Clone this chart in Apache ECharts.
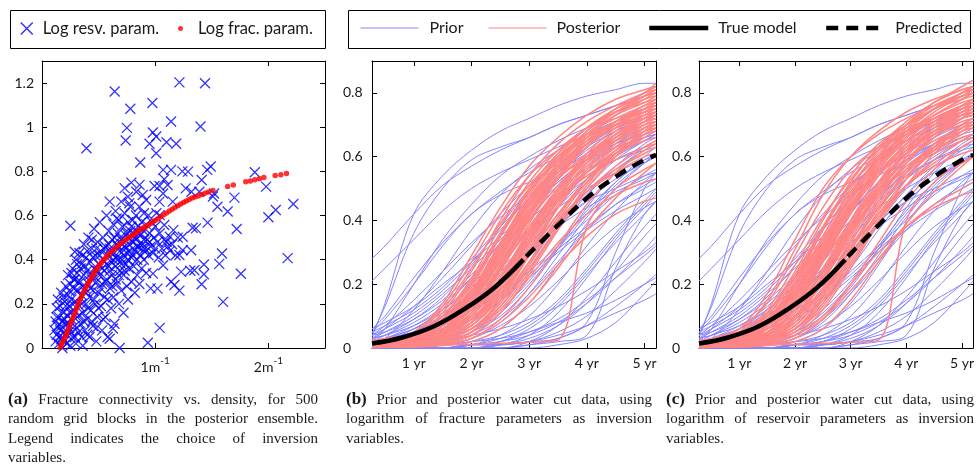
<!DOCTYPE html>
<html><head><meta charset="utf-8">
<script src="https://cdn.jsdelivr.net/npm/echarts@6/dist/echarts.min.js"></script>
<style>html,body{margin:0;padding:0;background:#fff}#c{width:977px;height:467px}</style>
</head><body><div id="c"></div>
<script>
// ---------- data ----------
const times = [0.275, 0.5, 1, 1.5, 2, 2.5, 3, 3.5, 4, 4.5, 5, 5.2];

const priorCurves = [
  [0.28,0.32,0.42,0.51,0.57,0.62,0.66,0.70,0.73,0.76,0.79,0.80],
  [0.21,0.25,0.34,0.43,0.50,0.55,0.59,0.63,0.67,0.71,0.74,0.75],
  [0.035,0.14,0.42,0.54,0.62,0.68,0.72,0.76,0.79,0.81,0.83,0.83],
  [0.045,0.13,0.36,0.50,0.59,0.63,0.66,0.70,0.73,0.76,0.79,0.80],
  [0.02,0.06,0.20,0.34,0.45,0.54,0.60,0.65,0.69,0.72,0.75,0.76],
  [0.01,0.03,0.12,0.24,0.37,0.48,0.56,0.62,0.67,0.71,0.74,0.75],
  [0.05,0.09,0.20,0.32,0.42,0.48,0.52,0.56,0.60,0.64,0.67,0.68],
  [0.06,0.10,0.22,0.33,0.42,0.49,0.55,0.60,0.65,0.69,0.72,0.73],
  [0.01,0.02,0.05,0.10,0.18,0.30,0.43,0.54,0.62,0.68,0.72,0.73],
  [0,0.01,0.03,0.07,0.14,0.25,0.38,0.50,0.59,0.66,0.71,0.72],
  [0,0,0.01,0.04,0.10,0.20,0.33,0.46,0.56,0.63,0.68,0.70],
  [0,0,0.02,0.06,0.15,0.28,0.42,0.52,0.59,0.64,0.68,0.69],
  [0.02,0.03,0.06,0.11,0.17,0.24,0.31,0.38,0.44,0.49,0.53,0.55],
  [0,0,0,0.01,0.03,0.08,0.17,0.29,0.41,0.51,0.58,0.60],
  [0,0,0,0,0.01,0.04,0.10,0.20,0.32,0.43,0.52,0.55],
  [0,0,0,0,0,0.01,0.04,0.11,0.22,0.34,0.44,0.48],
  [0,0,0,0,0,0,0.02,0.07,0.16,0.27,0.38,0.42],
  [0,0,0.01,0.02,0.04,0.06,0.09,0.13,0.18,0.24,0.30,0.33],
  [0,0,0,0.01,0.02,0.03,0.05,0.08,0.11,0.15,0.20,0.22],
  [0,0,0,0,0.01,0.01,0.02,0.04,0.07,0.11,0.15,0.17],
  [0.01,0.02,0.05,0.10,0.17,0.25,0.33,0.40,0.46,0.50,0.54,0.55],
  [0,0.01,0.02,0.05,0.09,0.15,0.22,0.30,0.37,0.43,0.48,0.50],
  [0,0,0,0,0,0,0.01,0.02,0.04,0.25,0.42,0.46],
  [0,0,0,0,0.01,0.01,0.02,0.03,0.08,0.30,0.50,0.55],
  [0.03,0.06,0.13,0.22,0.32,0.42,0.51,0.58,0.64,0.69,0.73,0.74],
  [0,0,0.01,0.03,0.08,0.18,0.31,0.44,0.55,0.63,0.69,0.71],
  [0,0,0,0.02,0.06,0.14,0.26,0.39,0.50,0.59,0.65,0.67],
  [0,0,0,0,0.02,0.06,0.14,0.26,0.39,0.50,0.58,0.61],
  [0.01,0.01,0.03,0.06,0.12,0.20,0.29,0.38,0.46,0.53,0.58,0.60],
  [0,0,0,0.01,0.04,0.09,0.17,0.27,0.37,0.45,0.51,0.53],
  [0.04,0.07,0.15,0.24,0.33,0.41,0.48,0.54,0.59,0.63,0.66,0.67],
  [0.01,0.02,0.06,0.12,0.20,0.29,0.37,0.44,0.50,0.55,0.59,0.60],
  [0,0,0,0,0,0.02,0.06,0.13,0.23,0.33,0.42,0.46],
  [0,0,0,0,0.01,0.02,0.05,0.09,0.15,0.22,0.29,0.32],
  [0,0.01,0.04,0.09,0.17,0.27,0.37,0.46,0.53,0.59,0.63,0.64],
  [0.02,0.04,0.09,0.16,0.26,0.38,0.50,0.59,0.66,0.71,0.75,0.76],
  [0,0,0.01,0.02,0.05,0.11,0.20,0.31,0.42,0.52,0.60,0.63],
  [0.03,0.05,0.10,0.17,0.25,0.34,0.43,0.51,0.58,0.64,0.69,0.70],
  [0,0,0,0,0,0,0.01,0.03,0.07,0.13,0.20,0.23],
  [0,0,0,0.01,0.03,0.07,0.13,0.21,0.30,0.38,0.44,0.46],
  [0.03,0.04,0.07,0.12,0.19,0.28,0.38,0.47,0.55,0.61,0.66,0.67],
  [0.02,0.03,0.06,0.10,0.16,0.24,0.34,0.44,0.53,0.60,0.65,0.67],
  [0.04,0.05,0.09,0.15,0.23,0.33,0.43,0.52,0.59,0.65,0.69,0.70],
  [0.01,0.02,0.04,0.08,0.13,0.20,0.29,0.39,0.48,0.56,0.62,0.64],
  [0.05,0.07,0.12,0.19,0.28,0.38,0.47,0.55,0.61,0.66,0.70,0.71],
  [0.02,0.03,0.05,0.08,0.12,0.17,0.24,0.32,0.40,0.48,0.54,0.56],
  [0.01,0.01,0.02,0.04,0.08,0.15,0.25,0.37,0.48,0.57,0.64,0.66],
  [0,0,0.01,0.02,0.05,0.10,0.19,0.31,0.44,0.55,0.63,0.65],
  [0,0,0,0.01,0.02,0.04,0.08,0.15,0.25,0.36,0.46,0.50],
  [0,0,0,0,0.01,0.02,0.04,0.08,0.14,0.22,0.31,0.35],
  [0,0,0,0,0,0.01,0.02,0.05,0.10,0.18,0.27,0.31],
  [0.03,0.04,0.08,0.14,0.22,0.31,0.40,0.48,0.54,0.59,0.62,0.63],
  [0.06,0.08,0.13,0.20,0.27,0.35,0.43,0.50,0.56,0.61,0.65,0.66],
  [0,0,0,0,0,0,0,0.01,0.03,0.08,0.17,0.21],
  [0,0,0,0,0.01,0.03,0.07,0.14,0.24,0.35,0.45,0.49],
  [0.02,0.03,0.07,0.13,0.22,0.33,0.45,0.55,0.63,0.69,0.73,0.74],
  [0.01,0.02,0.03,0.06,0.10,0.16,0.23,0.31,0.38,0.45,0.50,0.52],
  [0,0,0,0,0,0.01,0.03,0.07,0.14,0.24,0.35,0.39],
  [0.04,0.06,0.11,0.18,0.27,0.37,0.47,0.56,0.63,0.68,0.72,0.73],
  [0,0,0.01,0.03,0.06,0.12,0.21,0.32,0.43,0.52,0.59,0.61]
];

const posteriorB = [
  [0.01,0.012,0.025,0.07,0.16,0.31,0.46,0.57,0.65,0.71,0.75,0.76],
  [0.005,0.008,0.03,0.10,0.22,0.38,0.52,0.62,0.69,0.74,0.78,0.79],
  [0.015,0.02,0.05,0.14,0.29,0.44,0.57,0.66,0.73,0.78,0.81,0.82],
  [0.02,0.022,0.035,0.06,0.12,0.25,0.40,0.53,0.63,0.70,0.75,0.76],
  [0.003,0.004,0.01,0.03,0.08,0.19,0.33,0.47,0.58,0.66,0.72,0.74],
  [0.008,0.01,0.015,0.025,0.05,0.13,0.26,0.40,0.52,0.61,0.68,0.70],
  [0.012,0.015,0.03,0.06,0.14,0.28,0.43,0.56,0.66,0.73,0.78,0.80],
  [0.006,0.009,0.03,0.09,0.20,0.35,0.49,0.59,0.66,0.71,0.74,0.75],
  [0.018,0.02,0.03,0.05,0.10,0.22,0.37,0.50,0.60,0.67,0.72,0.74],
  [0.002,0.003,0.006,0.015,0.04,0.11,0.23,0.37,0.50,0.60,0.67,0.69],
  [0.01,0.012,0.025,0.055,0.11,0.24,0.39,0.53,0.63,0.70,0.75,0.77],
  [0.014,0.018,0.04,0.11,0.24,0.40,0.54,0.64,0.71,0.76,0.80,0.81],
  [0.004,0.006,0.02,0.07,0.17,0.32,0.47,0.59,0.68,0.74,0.79,0.80],
  [0.01,0.011,0.015,0.03,0.07,0.16,0.30,0.44,0.55,0.63,0.69,0.71],
  [0.02,0.025,0.05,0.12,0.25,0.39,0.51,0.60,0.66,0.70,0.73,0.74],
  [0.001,0.002,0.004,0.01,0.03,0.09,0.19,0.32,0.45,0.55,0.62,0.64],
  [0.016,0.02,0.035,0.07,0.13,0.25,0.37,0.47,0.55,0.61,0.65,0.66],
  [0.006,0.007,0.012,0.03,0.08,0.18,0.32,0.46,0.57,0.65,0.71,0.73],
  [0.008,0.01,0.03,0.08,0.19,0.35,0.50,0.61,0.69,0.75,0.79,0.81],
  [0.012,0.014,0.02,0.04,0.10,0.22,0.36,0.48,0.57,0.63,0.68,0.69],
  [0.003,0.005,0.02,0.06,0.14,0.27,0.42,0.56,0.66,0.73,0.79,0.81],
  [0.015,0.016,0.02,0.035,0.06,0.15,0.27,0.39,0.49,0.56,0.61,0.63],
  [0.022,0.026,0.04,0.08,0.17,0.30,0.43,0.53,0.60,0.65,0.69,0.70],
  [0.004,0.005,0.008,0.02,0.05,0.15,0.29,0.44,0.56,0.65,0.71,0.73],
  [0.001,0.002,0.003,0.008,0.02,0.06,0.14,0.25,0.37,0.47,0.55,0.58],
  [0.005,0.006,0.008,0.01,0.012,0.015,0.018,0.025,0.38,0.50,0.56,0.58],
  [0.01,0.012,0.02,0.04,0.09,0.19,0.33,0.47,0.58,0.66,0.72,0.74],
  [0.018,0.022,0.04,0.09,0.20,0.35,0.49,0.60,0.67,0.72,0.76,0.77],
  [0.007,0.009,0.015,0.04,0.09,0.20,0.34,0.46,0.54,0.59,0.63,0.64],
  [0.011,0.014,0.035,0.09,0.18,0.32,0.46,0.57,0.65,0.71,0.76,0.78],
  [0.002,0.003,0.005,0.015,0.04,0.11,0.22,0.33,0.42,0.48,0.52,0.53],
  [0.009,0.011,0.025,0.07,0.16,0.30,0.45,0.58,0.68,0.75,0.80,0.83],
  [0.024,0.03,0.05,0.13,0.27,0.42,0.54,0.62,0.67,0.70,0.72,0.73],
  [0.005,0.006,0.012,0.04,0.11,0.25,0.41,0.54,0.64,0.71,0.76,0.78],
  [0.013,0.014,0.018,0.03,0.06,0.13,0.25,0.38,0.49,0.57,0.63,0.65],
  [0.007,0.009,0.025,0.06,0.15,0.30,0.46,0.58,0.67,0.73,0.77,0.79],
  [0.003,0.004,0.006,0.012,0.03,0.08,0.16,0.26,0.35,0.42,0.46,0.47],
  [0.016,0.018,0.03,0.06,0.12,0.26,0.42,0.55,0.64,0.70,0.74,0.75],
  [0.01,0.013,0.04,0.10,0.21,0.36,0.50,0.61,0.69,0.74,0.77,0.78],
  [0.004,0.005,0.01,0.03,0.07,0.17,0.31,0.45,0.56,0.64,0.70,0.72],
  [0.02,0.023,0.04,0.08,0.15,0.27,0.40,0.51,0.60,0.66,0.71,0.72],
  [0.008,0.01,0.02,0.05,0.12,0.23,0.36,0.49,0.59,0.67,0.73,0.75],
  [0.012,0.015,0.03,0.07,0.15,0.29,0.44,0.56,0.65,0.71,0.75,0.76],
  [0.005,0.007,0.015,0.04,0.10,0.21,0.35,0.49,0.60,0.68,0.74,0.76],
  [0.015,0.017,0.025,0.05,0.11,0.22,0.35,0.46,0.55,0.62,0.67,0.68],
  [0.003,0.005,0.02,0.07,0.18,0.33,0.48,0.60,0.69,0.75,0.80,0.82],
  [0.01,0.011,0.018,0.04,0.09,0.18,0.30,0.42,0.52,0.60,0.66,0.68],
  [0.018,0.021,0.035,0.08,0.17,0.31,0.45,0.56,0.64,0.70,0.74,0.75],
  [0.006,0.008,0.02,0.05,0.13,0.26,0.41,0.54,0.63,0.70,0.75,0.77],
  [0.009,0.01,0.014,0.03,0.07,0.16,0.29,0.42,0.53,0.61,0.67,0.69],
  [0.013,0.016,0.03,0.08,0.18,0.33,0.47,0.57,0.64,0.69,0.72,0.73],
  [0.004,0.005,0.01,0.025,0.06,0.14,0.27,0.41,0.53,0.62,0.69,0.71],
  [0.02,0.024,0.045,0.10,0.21,0.36,0.49,0.59,0.66,0.71,0.75,0.76],
  [0.007,0.008,0.015,0.035,0.08,0.17,0.29,0.40,0.49,0.55,0.60,0.61],
  [0.011,0.013,0.025,0.06,0.14,0.28,0.44,0.57,0.67,0.74,0.79,0.80],
  [0.002,0.003,0.007,0.02,0.05,0.12,0.24,0.38,0.51,0.61,0.68,0.70],
  [0.016,0.019,0.035,0.08,0.16,0.29,0.42,0.53,0.61,0.67,0.71,0.72],
  [0.008,0.01,0.025,0.06,0.13,0.25,0.38,0.50,0.59,0.65,0.70,0.71],
  [0.012,0.014,0.022,0.045,0.10,0.21,0.36,0.50,0.61,0.69,0.75,0.77],
  [0.005,0.006,0.012,0.03,0.08,0.19,0.34,0.48,0.59,0.67,0.73,0.75]
];

const posteriorC = [
  [0.01,0.012,0.025,0.06,0.15,0.30,0.45,0.57,0.66,0.72,0.76,0.77],
  [0.005,0.008,0.03,0.11,0.24,0.40,0.54,0.64,0.70,0.75,0.79,0.80],
  [0.015,0.02,0.05,0.15,0.31,0.48,0.60,0.68,0.74,0.78,0.81,0.82],
  [0.02,0.022,0.035,0.06,0.13,0.27,0.42,0.55,0.64,0.71,0.76,0.77],
  [0.003,0.004,0.01,0.03,0.09,0.21,0.36,0.49,0.59,0.67,0.72,0.74],
  [0.008,0.01,0.015,0.025,0.05,0.14,0.28,0.42,0.53,0.62,0.69,0.71],
  [0.012,0.015,0.03,0.07,0.15,0.29,0.44,0.57,0.67,0.74,0.79,0.81],
  [0.006,0.009,0.03,0.09,0.21,0.37,0.51,0.60,0.67,0.72,0.75,0.76],
  [0.018,0.02,0.03,0.05,0.11,0.24,0.39,0.52,0.61,0.68,0.73,0.75],
  [0.002,0.003,0.006,0.015,0.04,0.12,0.25,0.39,0.51,0.61,0.68,0.70],
  [0.01,0.012,0.025,0.05,0.12,0.25,0.40,0.54,0.64,0.71,0.76,0.78],
  [0.014,0.02,0.06,0.17,0.34,0.50,0.60,0.67,0.72,0.76,0.79,0.80],
  [0.004,0.006,0.02,0.07,0.18,0.33,0.48,0.60,0.69,0.75,0.80,0.81],
  [0.01,0.011,0.015,0.03,0.07,0.17,0.31,0.45,0.56,0.64,0.70,0.72],
  [0.02,0.025,0.05,0.12,0.26,0.41,0.53,0.62,0.68,0.72,0.75,0.76],
  [0.001,0.002,0.004,0.01,0.03,0.09,0.20,0.33,0.46,0.56,0.63,0.65],
  [0.016,0.02,0.035,0.07,0.14,0.27,0.39,0.49,0.57,0.62,0.66,0.67],
  [0.006,0.007,0.012,0.03,0.08,0.19,0.34,0.48,0.58,0.66,0.72,0.74],
  [0.008,0.01,0.03,0.08,0.20,0.37,0.52,0.63,0.71,0.77,0.81,0.82],
  [0.012,0.014,0.02,0.04,0.10,0.23,0.38,0.50,0.59,0.65,0.69,0.70],
  [0.003,0.005,0.02,0.06,0.15,0.29,0.44,0.58,0.68,0.75,0.80,0.82],
  [0.015,0.016,0.02,0.035,0.06,0.16,0.29,0.41,0.51,0.58,0.63,0.65],
  [0.022,0.026,0.04,0.08,0.18,0.32,0.45,0.55,0.62,0.67,0.70,0.71],
  [0.004,0.005,0.008,0.02,0.06,0.16,0.31,0.46,0.58,0.67,0.73,0.75],
  [0.001,0.002,0.003,0.008,0.02,0.06,0.15,0.27,0.39,0.49,0.57,0.60],
  [0.005,0.006,0.008,0.01,0.012,0.015,0.018,0.025,0.40,0.52,0.58,0.60],
  [0.01,0.012,0.02,0.04,0.10,0.21,0.35,0.49,0.60,0.68,0.74,0.76],
  [0.018,0.022,0.04,0.10,0.22,0.37,0.51,0.61,0.68,0.73,0.77,0.78],
  [0.007,0.009,0.015,0.04,0.10,0.22,0.36,0.48,0.56,0.61,0.65,0.66],
  [0.011,0.014,0.035,0.09,0.19,0.34,0.48,0.59,0.67,0.73,0.78,0.80],
  [0.002,0.003,0.005,0.015,0.04,0.10,0.20,0.30,0.38,0.44,0.48,0.49],
  [0.009,0.011,0.025,0.07,0.17,0.32,0.47,0.60,0.70,0.77,0.82,0.84],
  [0.024,0.03,0.06,0.14,0.29,0.44,0.56,0.63,0.68,0.71,0.73,0.74],
  [0.005,0.006,0.012,0.04,0.12,0.27,0.43,0.56,0.66,0.73,0.78,0.80],
  [0.013,0.014,0.018,0.03,0.06,0.14,0.27,0.40,0.51,0.59,0.65,0.67],
  [0.007,0.009,0.025,0.06,0.16,0.32,0.48,0.60,0.69,0.75,0.79,0.81],
  [0.003,0.004,0.006,0.012,0.03,0.09,0.18,0.28,0.38,0.45,0.50,0.52],
  [0.016,0.018,0.03,0.06,0.13,0.28,0.44,0.57,0.66,0.72,0.76,0.77],
  [0.01,0.013,0.04,0.10,0.22,0.38,0.52,0.63,0.70,0.75,0.78,0.79],
  [0.004,0.005,0.01,0.03,0.08,0.18,0.33,0.47,0.58,0.66,0.72,0.74],
  [0.02,0.023,0.04,0.09,0.17,0.30,0.43,0.54,0.62,0.68,0.72,0.73],
  [0.008,0.01,0.02,0.05,0.12,0.24,0.38,0.51,0.61,0.69,0.75,0.77],
  [0.012,0.015,0.03,0.07,0.16,0.31,0.46,0.58,0.66,0.72,0.76,0.77],
  [0.005,0.007,0.015,0.04,0.10,0.22,0.37,0.51,0.62,0.70,0.75,0.77],
  [0.015,0.017,0.025,0.05,0.12,0.24,0.37,0.48,0.57,0.63,0.68,0.69],
  [0.003,0.005,0.02,0.07,0.19,0.35,0.50,0.62,0.70,0.76,0.80,0.82],
  [0.01,0.011,0.018,0.04,0.09,0.19,0.32,0.44,0.54,0.62,0.67,0.69],
  [0.018,0.021,0.035,0.08,0.18,0.33,0.47,0.58,0.65,0.70,0.74,0.75],
  [0.006,0.008,0.02,0.05,0.14,0.28,0.43,0.56,0.65,0.72,0.76,0.78],
  [0.009,0.01,0.014,0.03,0.07,0.17,0.31,0.44,0.55,0.63,0.69,0.71],
  [0.013,0.016,0.03,0.09,0.20,0.35,0.49,0.59,0.65,0.70,0.73,0.74],
  [0.004,0.005,0.01,0.025,0.06,0.15,0.29,0.43,0.55,0.64,0.70,0.72],
  [0.02,0.024,0.05,0.11,0.23,0.38,0.51,0.60,0.67,0.72,0.75,0.76],
  [0.007,0.008,0.015,0.035,0.08,0.18,0.31,0.42,0.51,0.57,0.61,0.62],
  [0.011,0.013,0.025,0.06,0.15,0.30,0.46,0.59,0.68,0.75,0.80,0.81],
  [0.002,0.003,0.007,0.02,0.05,0.13,0.26,0.40,0.53,0.63,0.70,0.72],
  [0.016,0.019,0.035,0.08,0.17,0.31,0.44,0.55,0.63,0.68,0.72,0.73],
  [0.008,0.01,0.025,0.06,0.14,0.27,0.40,0.52,0.61,0.67,0.71,0.72],
  [0.012,0.014,0.022,0.045,0.10,0.22,0.38,0.52,0.63,0.70,0.76,0.78],
  [0.005,0.006,0.012,0.03,0.09,0.21,0.36,0.50,0.61,0.69,0.74,0.76]
];

const trueTimes  = [0.275, 0.8, 1.35, 1.9, 2.4, 2.9];
const trueValues = [0.014, 0.033, 0.068, 0.125, 0.19, 0.277];
const predTimes  = [2.95, 3.5, 4, 4.5, 5, 5.2];
const predValues = [0.287, 0.385, 0.47, 0.537, 0.59, 0.605];

// panel (a): fracture density (1/m) vs connectivity
const resvPoints = [
  [0.25,0.554],[0.393,0.905],[0.642,1.162],[0.78,1.084],[0.75,0.997],[0.739,0.94],[0.975,1.11],[1.214,1.203],
  [1.44,1.199],[1.40,1.003],[1.14,1.026],[0.979,0.976],[1.009,0.958],[0.95,0.925],[1.10,0.932],[1.185,0.925],
  [1.009,0.882],[0.868,0.84],[1.07,0.807],[1.14,0.807],[1.29,0.799],[1.49,0.822],[1.46,0.807],[1.41,0.761],
  [1.88,0.796],[1.98,0.731],[2.065,0.625],[2.0,0.592],[2.22,0.652],[2.17,0.407],[1.757,0.336],[1.60,0.209],
  [1.72,0.539],[1.70,0.681],[1.64,0.618],[1.55,0.640],[1.463,0.568],[1.33,0.545],[1.36,0.542],[1.59,0.428],
  [1.566,0.381],[1.43,0.378],[1.43,0.334],[1.41,0.289],[1.346,0.352],[1.31,0.35],[1.229,0.345],[1.214,0.26],
  [1.243,0.504],[1.243,0.443],[1.317,0.443],[1.214,0.421],[1.17,0.285],[1.14,0.30],[1.02,0.269],[1.04,0.091],
  [0.935,0.024],[0.98,0.337],[1.07,0.375],[0.686,0.0],[0.627,0.088],[0.598,0.042],[0.29,0.436],[1.07,0.70],
  [1.11,0.738],[1.08,0.764],[1.038,0.734],[0.994,0.734],[0.73,0.724],[0.789,0.749],[0.862,0.739],[0.833,0.708],
  [0.89,0.693],[0.92,0.67],[0.598,0.663],[0.759,0.685],[0.77,0.655],[1.038,0.663],[1.155,0.663],[1.24,0.80],
  [1.27,0.723],[1.32,0.708],[1.39,0.708],[1.52,0.70],[1.51,0.686],[1.01,0.61],[1.04,0.602],[1.08,0.557],
  [1.16,0.534],[1.13,0.504],[1.10,0.481],[0.70,0.663],[0.66,0.587],
  [0.11,0.08],[0.12,0.12],[0.12,0.03],[0.13,0.18],[0.13,0.06],[0.14,0.10],[0.14,0.22],[0.15,0.02],[0.15,0.14],
  [0.16,0.08],[0.16,0.19],[0.17,0.04],[0.17,0.25],[0.18,0.12],[0.18,0.0],[0.19,0.16],[0.19,0.07],[0.20,0.21],
  [0.20,0.03],[0.21,0.28],[0.21,0.11],[0.22,0.15],[0.22,0.06],[0.23,0.24],[0.23,0.33],[0.24,0.19],[0.24,0.09],
  [0.25,0.01],[0.25,0.29],[0.26,0.13],[0.26,0.22],[0.27,0.36],[0.27,0.05],[0.28,0.27],[0.28,0.17],[0.29,0.10],
  [0.29,0.31],[0.30,0.40],[0.30,0.21],[0.30,0.02],[0.31,0.14],[0.31,0.34],[0.32,0.26],[0.32,0.07],[0.33,0.43],
  [0.33,0.19],[0.34,0.30],[0.34,0.11],[0.35,0.38],[0.35,0.24],[0.36,0.01],[0.36,0.16],[0.37,0.33],[0.37,0.47],
  [0.38,0.27],[0.38,0.08],[0.39,0.20],[0.39,0.41],[0.40,0.35],[0.40,0.13],[0.41,0.29],[0.41,0.50],[0.42,0.23],
  [0.42,0.05],[0.43,0.39],[0.43,0.17],[0.44,0.45],[0.44,0.31],[0.45,0.10],[0.45,0.26],[0.46,0.36],[0.46,0.54],
  [0.47,0.20],[0.47,0.42],[0.48,0.30],[0.48,0.03],[0.49,0.48],[0.49,0.14],[0.50,0.38],[0.50,0.25],[0.51,0.33],
  [0.51,0.57],[0.52,0.44],[0.52,0.19],[0.53,0.08],[0.53,0.29],[0.54,0.40],[0.54,0.50],[0.55,0.35],[0.55,0.23],
  [0.56,0.46],[0.56,0.14],[0.57,0.60],[0.57,0.31],[0.58,0.42],[0.58,0.05],[0.59,0.37],[0.59,0.53],[0.60,0.27],
  [0.60,0.45],[0.61,0.18],[0.61,0.39],[0.62,0.49],[0.62,0.33],[0.63,0.56],[0.63,0.23],[0.64,0.43],[0.64,0.11],
  [0.65,0.37],[0.65,0.62],[0.66,0.47],[0.66,0.29],[0.67,0.52],[0.67,0.40],[0.68,0.20],[0.68,0.58],[0.69,0.35],
  [0.69,0.44],[0.70,0.49],[0.70,0.26],[0.71,0.40],[0.71,0.55],[0.72,0.33],[0.72,0.16],[0.73,0.46],[0.73,0.61],
  [0.74,0.38],[0.74,0.51],[0.75,0.28],[0.75,0.43],[0.76,0.57],[0.76,0.22],[0.77,0.47],[0.77,0.36],[0.78,0.53],
  [0.78,0.64],[0.79,0.41],[0.79,0.30],[0.80,0.48],[0.80,0.58],[0.81,0.37],[0.81,0.52],[0.82,0.44],[0.82,0.25],
  [0.83,0.60],[0.83,0.49],[0.84,0.40],[0.84,0.33],[0.85,0.55],[0.85,0.46],[0.86,0.64],[0.86,0.29],[0.87,0.51],
  [0.87,0.42],[0.88,0.57],[0.88,0.36],[0.89,0.47],[0.90,0.53],[0.90,0.40],[0.90,0.61],[0.91,0.45],[0.92,0.56],
  [0.92,0.34],[0.93,0.49],[0.94,0.42],[0.94,0.60],[0.95,0.52],[0.96,0.46],[0.96,0.27],[0.97,0.57],[0.98,0.43],
  [0.99,0.50],[1.00,0.45],[1.00,0.55],[1.02,0.48],[1.03,0.41],[1.04,0.52],[1.06,0.45],[1.08,0.49],[1.09,0.42],
  [1.11,0.46],[1.13,0.44],[1.15,0.47],[1.18,0.42],[1.20,0.50],
  [0.18,0.05],[0.20,0.13],[0.21,0.19],[0.22,0.02],[0.23,0.11],[0.24,0.26],[0.25,0.16],[0.26,0.07],[0.27,0.20],
  [0.28,0.31],[0.29,0.05],[0.30,0.26],[0.31,0.09],[0.32,0.30],[0.33,0.15],[0.34,0.36],[0.35,0.05],[0.35,0.20],
  [0.36,0.28],[0.37,0.12],[0.38,0.37],[0.39,0.25],[0.40,0.06],[0.40,0.44],[0.41,0.18],[0.42,0.33],[0.43,0.27],
  [0.44,0.12],[0.45,0.41],[0.46,0.22],[0.47,0.32],[0.48,0.09],[0.48,0.45],[0.49,0.35],[0.50,0.18],[0.51,0.42],
  [0.52,0.27],[0.53,0.36],[0.54,0.13],[0.55,0.45],[0.56,0.30],[0.57,0.38],[0.58,0.22],[0.59,0.47],[0.60,0.35],
  [0.61,0.43],[0.62,0.28],[0.63,0.40],[0.64,0.50],[0.65,0.31],[0.66,0.41],[0.67,0.46],[0.68,0.33],[0.69,0.50],
  [0.70,0.38],[0.71,0.47],[0.72,0.42],[0.73,0.35],[0.74,0.45],[0.75,0.52],[0.76,0.40],[0.77,0.50],[0.78,0.44],
  [0.79,0.55],[0.80,0.42],[0.82,0.50],[0.84,0.46],[0.86,0.52],[0.88,0.45],[0.90,0.49],[0.92,0.44],[0.95,0.48],
  [0.17,0.10],[0.19,0.23],[0.15,0.05],[0.13,0.14],[0.26,0.34],[0.31,0.38],[0.36,0.42],[0.44,0.49]
];

const fracPoints = [
  [0.160,0.002],[0.170,0.013],[0.180,0.024],[0.190,0.035],[0.200,0.046],[0.210,0.057],[0.220,0.069],[0.230,0.082],
  [0.240,0.095],[0.250,0.108],[0.260,0.121],[0.270,0.134],[0.280,0.147],[0.290,0.160],[0.300,0.173],[0.310,0.186],
  [0.320,0.199],[0.330,0.212],[0.340,0.224],[0.350,0.235],[0.362,0.247],[0.374,0.259],[0.386,0.271],[0.398,0.283],
  [0.410,0.295],[0.422,0.305],[0.434,0.316],[0.446,0.326],[0.458,0.337],[0.470,0.347],[0.482,0.357],[0.495,0.368],
  [0.510,0.377],[0.525,0.386],[0.540,0.395],[0.555,0.404],[0.570,0.412],[0.585,0.420],[0.600,0.429],[0.620,0.439],
  [0.640,0.448],[0.660,0.457],[0.680,0.466],[0.700,0.475],[0.720,0.483],[0.740,0.490],[0.760,0.497],[0.780,0.504],
  [0.800,0.511],[0.820,0.518],[0.840,0.526],[0.860,0.533],[0.880,0.540],[0.900,0.546],[0.920,0.552],[0.940,0.558],
  [0.960,0.564],[0.980,0.571],[1.000,0.577],[1.025,0.586],[1.050,0.595],[1.075,0.604],[1.100,0.612],[1.125,0.620],
  [1.150,0.628],[1.175,0.636],[1.200,0.644],[1.225,0.652],[1.250,0.659],[1.275,0.666],[1.300,0.673],[1.325,0.679],
  [1.35,0.684],[1.38,0.689],[1.41,0.695],[1.44,0.701],[1.47,0.707],[1.51,0.713],[1.64,0.731],[1.69,0.738],
  [1.80,0.753],[1.84,0.757],[1.88,0.762],[1.92,0.767],[1.96,0.772],[2.06,0.781],[2.11,0.785],[2.16,0.790]
];

const timeTicks = [1, 2, 3, 4, 5];
const captionCols = [
  {left: 8, right: 318, lines: ['(a) Fracture connectivity vs. density, for 500', 'random grid blocks in the posterior ensemble.', 'Legend indicates the choice of inversion', 'variables.']},
  {left: 346, right: 652, lines: ['(b) Prior and posterior water cut data, using', 'logarithm of fracture parameters as inversion', 'variables.']},
  {left: 666, right: 974, lines: ['(c) Prior and posterior water cut data, using', 'logarithm of reservoir parameters as inversion', 'variables.']}
];

// ---------- styling ----------
const INK = '#1a1a1a';
const SANS = 'Lato';
const PRIOR_C = '#8585ff';
const POST_C = '#ff8585';
const X_PATH = 'path://M0,0L10,10M10,0L0,10';

const chart = echarts.init(document.getElementById('c'), null, {renderer: 'canvas', width: 977, height: 467});

const grids = [
  {left: 42, top: 61, width: 283, height: 287},
  {left: 372, top: 61, width: 284, height: 287},
  {left: 699, top: 61, width: 284, height: 287}
];

function tickCfg() { return {show: true, inside: true, length: 5, lineStyle: {color: '#000', width: 1}}; }
function lineCfg() { return {show: true, onZero: false, lineStyle: {color: '#000', width: 1}}; }

const xAxes = [];
const yAxes = [];
// panel a
xAxes.push({gridIndex: 0, type: 'value', min: 0, max: 2.5, interval: 1, position: 'bottom',
  axisLine: lineCfg(), axisTick: tickCfg(), splitLine: {show: false},
  axisLabel: {margin: 8, showMinLabel: false, showMaxLabel: false, color: INK, fontFamily: SANS, fontSize: 14,
    formatter: v => (v === 0 ? '' : '{a|' + v + 'm}{s|-1}'),
    rich: {a: {fontFamily: SANS, fontSize: 14, color: INK, lineHeight: 18, verticalAlign: 'bottom'},
           s: {fontFamily: SANS, fontSize: 10, color: INK, lineHeight: 10, verticalAlign: 'top'}}}});
xAxes.push({gridIndex: 0, type: 'value', min: 0, max: 2.5, interval: 1, position: 'top',
  axisLine: lineCfg(), axisTick: tickCfg(), splitLine: {show: false}, axisLabel: {show: false}});
yAxes.push({gridIndex: 0, type: 'value', min: 0, max: 1.3, interval: 0.2, position: 'left',
  axisLine: lineCfg(), axisTick: tickCfg(), splitLine: {show: false},
  axisLabel: {margin: 8, color: INK, fontFamily: SANS, fontSize: 14, showMaxLabel: false}});
yAxes.push({gridIndex: 0, type: 'value', min: 0, max: 1.3, interval: 0.2, position: 'right',
  axisLine: lineCfg(), axisTick: tickCfg(), splitLine: {show: false}, axisLabel: {show: false}});
// panels b, c
[1, 2].forEach(g => {
  xAxes.push({gridIndex: g, type: 'value', min: 0.275, max: 5.2, position: 'bottom',
    axisLine: lineCfg(), axisTick: Object.assign(tickCfg(), {customValues: timeTicks}), splitLine: {show: false},
    axisLabel: {customValues: timeTicks, margin: 8, color: INK, fontFamily: SANS, fontSize: 14, formatter: v => v + ' yr'}});
  xAxes.push({gridIndex: g, type: 'value', min: 0.275, max: 5.2, position: 'top',
    axisLine: lineCfg(), axisTick: Object.assign(tickCfg(), {customValues: timeTicks}), splitLine: {show: false},
    axisLabel: {show: false}});
  yAxes.push({gridIndex: g, type: 'value', min: 0, max: 0.9, interval: 0.2, position: 'left',
    axisLine: lineCfg(), axisTick: tickCfg(), splitLine: {show: false},
    axisLabel: {margin: g === 1 ? 29 : 27, align: 'left', color: INK, fontFamily: SANS, fontSize: 14, showMaxLabel: false}});
  yAxes.push({gridIndex: g, type: 'value', min: 0, max: 0.9, interval: 0.2, position: 'right',
    axisLine: lineCfg(), axisTick: tickCfg(), splitLine: {show: false}, axisLabel: {show: false}});
});

const series = [];
series.push({type: 'scatter', name: 'Log resv. param.', xAxisIndex: 0, yAxisIndex: 0, data: resvPoints,
  symbol: X_PATH, symbolSize: 10, itemStyle: {color: 'rgba(0,0,0,0)', borderColor: '#0000ff', borderWidth: 1.3},
  silent: true, z: 2});
series.push({type: 'scatter', name: 'Log frac. param.', xAxisIndex: 0, yAxisIndex: 0, data: fracPoints,
  symbol: 'circle', symbolSize: 5.5, itemStyle: {color: '#ff0000'}, silent: true, z: 3});

function pairs(ts, vs) { return ts.map((t, i) => [t, vs[i]]); }
function addCurves(curves, name, color, width, idx, z) {
  curves.forEach(c => series.push({type: 'line', name, xAxisIndex: idx, yAxisIndex: idx, data: pairs(times, c),
    smooth: 0.35, symbol: 'none', lineStyle: {color, width}, silent: true, z}));
}
[[2, posteriorB], [4, posteriorC]].forEach(([idx, post]) => {
  addCurves(priorCurves, 'Prior', PRIOR_C, 1, idx, 2);
  addCurves(post, 'Posterior', POST_C, 1.5, idx, 3);
  series.push({type: 'line', name: 'True model', xAxisIndex: idx, yAxisIndex: idx, data: pairs(trueTimes, trueValues),
    smooth: 0.4, symbol: 'none', lineStyle: {color: '#000', width: 4.5}, silent: true, z: 5});
  series.push({type: 'line', name: 'Predicted', xAxisIndex: idx, yAxisIndex: idx, data: pairs(predTimes, predValues),
    smooth: 0.4, symbol: 'none', lineStyle: {color: '#000', width: 4.5, type: [12, 8]}, silent: true, z: 5});
});

const legTxt = {color: INK, fontFamily: SANS, fontSize: 16};
const hideSym = {opacity: 0};
function leg(name, left, w, extra) {
  return Object.assign({show: true, data: [name], left, top: 20, padding: 0, itemWidth: w, itemHeight: 18,
    selectedMode: false, textStyle: Object.assign({}, legTxt)}, extra || {});
}
const legends = [
  leg('Log resv. param.', 20, 12, {itemStyle: {color: 'rgba(0,0,0,0)', borderColor: '#0000ff', borderWidth: 1.5},
    textStyle: Object.assign({}, legTxt, {fontSize: 16.5, padding: [0, 0, 0, 5]})}),
  leg('Log frac. param.', 178, 5, {icon: 'circle', itemStyle: {color: '#ff0000', borderWidth: 0},
    textStyle: Object.assign({}, legTxt, {fontSize: 16.5, padding: [0, 0, 0, 10]})}),
  leg('Prior', 360, 58, {itemStyle: hideSym, lineStyle: {width: 1, color: PRIOR_C}, textStyle: Object.assign({}, legTxt, {padding: [0, 0, 0, 6]})}),
  leg('Posterior', 488, 58, {itemStyle: hideSym, lineStyle: {width: 1, color: POST_C}, textStyle: Object.assign({}, legTxt, {padding: [0, 0, 0, 5]})}),
  leg('True model', 647, 59, {itemStyle: hideSym, lineStyle: {width: 4.5, color: '#000'}, textStyle: Object.assign({}, legTxt, {padding: [0, 0, 0, 5]})}),
  leg('Predicted', 824, 59, {itemStyle: hideSym, lineStyle: {width: 4.5, color: '#000', type: [12, 8]}, textStyle: Object.assign({}, legTxt, {padding: [0, 0, 0, 5]})})
];

// ---------- captions (justified text) ----------
const BODY_FONT = '15px "Liberation Serif"';
const LABEL_FONT = 'bold 17px "Liberation Serif"';
const capTop = 400, capGap = 19.5;
const mctx = document.createElement('canvas').getContext('2d');
function measure(t, f) { mctx.font = f; return mctx.measureText(t).width; }
const graphics = [
  {type: 'rect', silent: true, shape: {x: 10.5, y: 10.5, width: 315, height: 38}, style: {fill: 'none', stroke: '#000', lineWidth: 1}},
  {type: 'rect', silent: true, shape: {x: 348.5, y: 10.5, width: 622, height: 38}, style: {fill: 'none', stroke: '#000', lineWidth: 1}}
];
captionCols.forEach(col => {
  col.lines.forEach((line, li) => {
    const words = line.split(' ');
    const fonts = words.map((w, wi) => (li === 0 && wi === 0) ? LABEL_FONT : BODY_FONT);
    const widths = words.map((w, wi) => measure(w, fonts[wi]));
    const sum = widths.reduce((a, b) => a + b, 0);
    const last = li === col.lines.length - 1;
    const gap = last || words.length < 2 ? measure(' ', BODY_FONT) : (col.right - col.left - sum) / (words.length - 1);
    let x = col.left;
    words.forEach((w, wi) => {
      graphics.push({type: 'text', silent: true, x: x, y: capTop + li * capGap,
        style: {text: w, font: fonts[wi], fill: INK, verticalAlign: 'middle'}});
      x += widths[wi] + gap;
    });
  });
});

chart.setOption({
  animation: false,
  backgroundColor: '#fff',
  grid: grids,
  xAxis: xAxes,
  yAxis: yAxes,
  legend: legends,
  series,
  graphic: graphics
});
</script></body></html>
